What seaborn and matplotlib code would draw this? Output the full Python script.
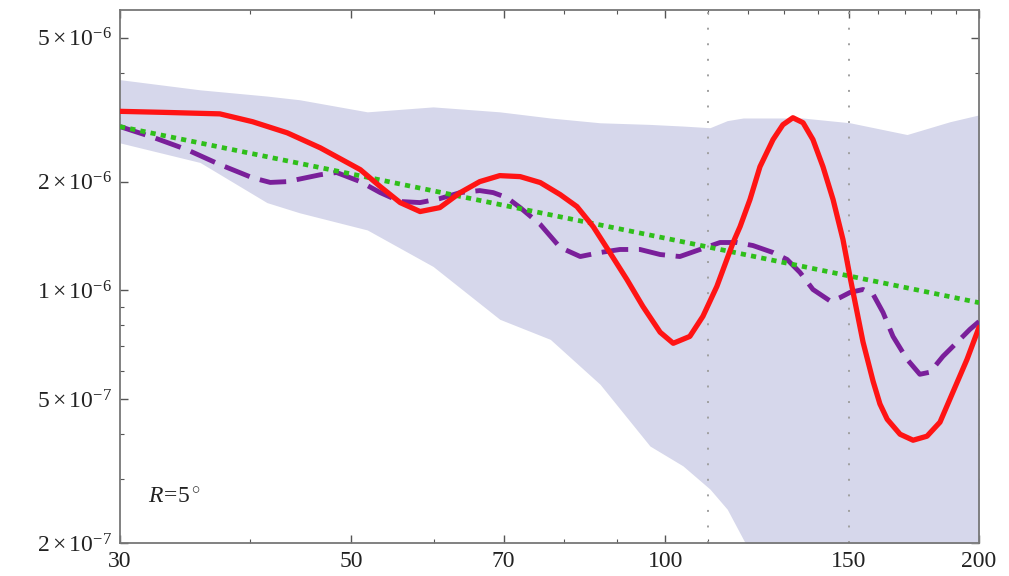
import numpy as np
import pandas as pd
import matplotlib
matplotlib.use("Agg")
import matplotlib.pyplot as plt
import seaborn as sns
from matplotlib.ticker import FixedLocator, FixedFormatter, NullFormatter

# ---- data (values in units of 1e-6 for y) ----
red_x = [30, 33.0, 37.4, 40.2, 43.4, 46.7, 51.0, 53.3, 55.7, 58.2, 60.8, 63.6, 66.4, 69.4,
         72.6, 75.9, 79.3, 82.3, 85.3, 88.5, 91.9, 95.2, 98.9, 101.8, 105.6, 108.7, 112.1,
         116.2, 118.0, 120.6, 123.3, 126.9, 129.7, 132.6, 135.6, 138.6, 141.7, 144.9, 148.1,
         150.4, 152.8, 154.8, 158.3, 160.7, 163.3, 168.0, 172.9, 178.3, 183.5, 188.8, 194.8, 200]
red_y = [3.13, 3.11, 3.08, 2.93, 2.73, 2.48, 2.159, 1.938, 1.750, 1.653, 1.695, 1.865, 2.000,
         2.078, 2.065, 1.988, 1.842, 1.706, 1.502, 1.273, 1.072, 0.903, 0.766, 0.714, 0.746,
         0.848, 1.026, 1.357, 1.502, 1.784, 2.200, 2.614, 2.874, 3.005, 2.911, 2.614, 2.200,
         1.784, 1.383, 1.093, 0.869, 0.720, 0.560, 0.485, 0.440, 0.400, 0.385, 0.395, 0.432,
         0.523, 0.645, 0.79]

purple_x = [30, 32.3, 34.8, 37.4, 40.2, 41.8, 43.4, 46.7, 48.4, 51.0, 53.3, 55.7, 58.2, 60.8,
            63.6, 66.4, 68.4, 70.5, 72.6, 75.9, 79.3, 82.9, 86.6, 90.5, 94.6, 98.9, 103.3,
            108.0, 112.9, 117.2, 121.4, 126.9, 130.9, 134.7, 138.6, 144.2, 147.1, 150.4, 154.8,
            158.3, 161.8, 165.4, 170.6, 175.5, 179.5, 184.7, 190.5, 196.0, 200]
purple_y = [2.84, 2.65, 2.45, 2.23, 2.05, 1.99, 2.00, 2.09, 2.12, 2.00, 1.865, 1.762, 1.750,
            1.795, 1.865, 1.889, 1.865, 1.806, 1.695, 1.522, 1.315, 1.241, 1.273, 1.298, 1.298,
            1.257, 1.241, 1.298, 1.357, 1.357, 1.331, 1.273, 1.218, 1.121, 1.006, 0.932, 0.955,
            0.987, 1.006, 0.975, 0.869, 0.746, 0.645, 0.586, 0.594, 0.657, 0.718, 0.780, 0.82]

green_x = [30, 50, 70, 100, 150, 200]
green_y = [2.84, 2.10, 1.72, 1.395, 1.097, 0.925]

band_x = [30, 35.8, 41.5, 44.6, 51.8, 59.9, 69.4, 77.6, 86.6, 96.7, 104.0, 110.4, 114.7,
          118.8, 126.0, 135.5, 150.4, 170.6, 187.6, 200]
band_hi = [3.83, 3.59, 3.45, 3.37, 3.12, 3.22, 3.12, 3.00, 2.91, 2.88, 2.85, 2.82, 2.95,
           3.00, 3.00, 3.00, 2.91, 2.70, 2.93, 3.06]
band_lo = [2.56, 2.26, 1.75, 1.64, 1.47, 1.165, 0.832, 0.732, 0.55, 0.371, 0.327, 0.282, 0.248,
           0.205, 0.15, 0.15, 0.15, 0.15, 0.15, 0.15]

vlines_x = [110, 150]

x_ticks = [30, 50, 70, 100, 150, 200]
x_ticklabels = ["30", "50", "70", "100", "150", "200"]
x_minor = [40, 60, 80, 90, 110, 120, 130, 140, 160, 170, 180, 190]
y_ticks = [2e-7, 5e-7, 1e-6, 2e-6, 5e-6]
y_ticklabels = [r"$2\times10^{-7}$", r"$5\times10^{-7}$", r"$1\times10^{-6}$",
                r"$2\times10^{-6}$", r"$5\times10^{-6}$"]
y_minor = [3e-7, 4e-7, 6e-7, 7e-7, 8e-7, 9e-7, 3e-6, 4e-6]
label_text = r"$R\!=\!5\,^{\circ}$"

SCALE = 1e-6

sns.set_theme(style="white")
plt.rcParams["font.family"] = ["Liberation Serif", "DejaVu Serif"]
plt.rcParams["mathtext.fontset"] = "custom"
plt.rcParams["mathtext.rm"] = "Liberation Serif"
plt.rcParams["mathtext.it"] = "Liberation Serif:italic"
plt.rcParams["mathtext.bf"] = "Liberation Serif:bold"

fig = plt.figure(figsize=(10.09, 5.76), dpi=100)
ax = fig.add_axes([120 / 1009, 1 - 543 / 576, (979 - 120) / 1009, (543 - 10) / 576])
ax.set_xscale("log")
ax.set_yscale("log")

ax.fill_between(band_x, np.array(band_lo) * SCALE, np.array(band_hi) * SCALE,
                color="#d6d7eb", lw=0, zorder=1)

for xv in vlines_x:
    ax.axvline(xv, color="#a0a0a0", lw=1.4, linestyle=(0, (1, 7)), zorder=2)

df_p = pd.DataFrame({"x": purple_x, "y": np.array(purple_y) * SCALE})
df_g = pd.DataFrame({"x": green_x, "y": np.array(green_y) * SCALE})
df_r = pd.DataFrame({"x": red_x, "y": np.array(red_y) * SCALE})

sns.lineplot(data=df_p, x="x", y="y", ax=ax, color="#7a1f9a", lw=3.5,
             linestyle=(0, (5.5, 2.2)), dash_joinstyle="round", zorder=3)
sns.lineplot(data=df_g, x="x", y="y", ax=ax, color="#2fbf1a", lw=3.4,
             linestyle=(0, (1.1, 1.1)), zorder=4)
sns.lineplot(data=df_r, x="x", y="y", ax=ax, color="#ff1414", lw=3.8,
             solid_joinstyle="round", solid_capstyle="round", zorder=5)

ax.set_xlim(30, 200)
ax.set_ylim(2e-7, 5.97e-6)
ax.set_xlabel("")
ax.set_ylabel("")

ax.xaxis.set_major_locator(FixedLocator(x_ticks))
ax.xaxis.set_major_formatter(FixedFormatter(x_ticklabels))
ax.xaxis.set_minor_locator(FixedLocator(x_minor))
ax.xaxis.set_minor_formatter(NullFormatter())
ax.yaxis.set_major_locator(FixedLocator(y_ticks))
ax.yaxis.set_major_formatter(FixedFormatter(y_ticklabels))
ax.yaxis.set_minor_locator(FixedLocator(y_minor))
ax.yaxis.set_minor_formatter(NullFormatter())

ax.tick_params(which="both", direction="in", top=True, right=True, bottom=True, left=True,
               colors="#555555", labelcolor="#222222")
ax.tick_params(which="major", length=6, width=1.0, labelsize=17, pad=6)
ax.tick_params(which="minor", length=3, width=0.8)

for s in ax.spines.values():
    s.set_color("#777777")
    s.set_linewidth(1.3)
    s.set_visible(True)

ax.text(0.033, 0.084, label_text, transform=ax.transAxes, fontsize=17, color="#222222",
        ha="left", va="center")

fig.savefig("out.png", dpi=100)
